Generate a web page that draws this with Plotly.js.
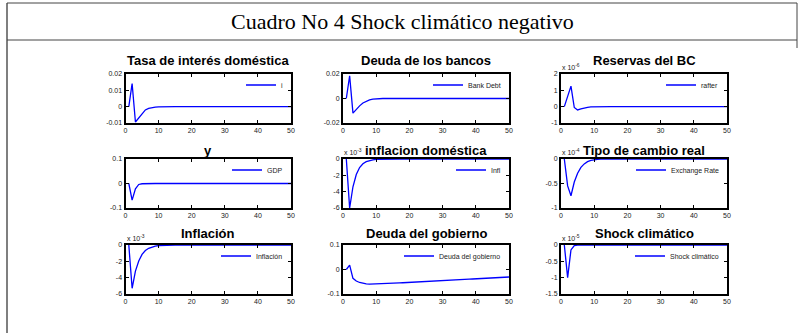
<!DOCTYPE html>
<html>
<head>
<meta charset="utf-8">
<script src="https://cdn.plot.ly/plotly-3.0.1.min.js"></script>
<style>
html,body{margin:0;padding:0;background:#fff;}
#chart{width:804px;height:333px;}
</style>
</head>
<body>
<div id="chart"></div>
<script>
// ---------------- DATA ----------------
var periods = [1,2,3,4,5,6,7,8,9,10,11,12,13,14,15,16,17,18,19,20,21,22,23,24,25,
               26,27,28,29,30,31,32,33,34,35,36,37,38,39,40,41,42,43,44,45,46,47,48,49,50];

var panelTitles = ["Tasa de interés doméstica", "Deuda de los bancos", "Reservas del BC",
                   "y", "inflacion doméstica", "Tipo de cambio real",
                   "Inflación", "Deuda del gobierno", "Shock climático"];
var legendNames = ["i", "Bank Debt", "rafter", "GDP", "Infl", "Exchange Rate",
                   "Inflación", "Deuda del gobierno", "Shock climático"];
var mainTitle = "Cuadro No 4 Shock climático negativo";
var xTicks = [0, 10, 20, 30, 40, 50];

var interes = [0, 0.0142, -0.0094, -0.0068, -0.0043, -0.0020, -0.0010, -0.0005, -0.0003, -0.0001,
  0,0,0,0,0,0,0,0,0,0, 0,0,0,0,0,0,0,0,0,0, 0,0,0,0,0,0,0,0,0,0, 0,0,0,0,0,0,0,0,0,0];
var bankDebt = [0, 0.0186, -0.0119, -0.0088, -0.0060, -0.0037, -0.0021, -0.0011, -0.0005, -0.0002,
  -0.0001,0,0,0,0,0,0,0,0,0, 0,0,0,0,0,0,0,0,0,0, 0,0,0,0,0,0,0,0,0,0, 0,0,0,0,0,0,0,0,0,0];
var rafter = [0, 0.63e-6, 1.26e-6, -0.05e-6, -0.20e-6, -0.14e-6, -0.08e-6, -0.04e-6, -0.015e-6, -0.005e-6,
  0,0,0,0,0,0,0,0,0,0, 0,0,0,0,0,0,0,0,0,0, 0,0,0,0,0,0,0,0,0,0, 0,0,0,0,0,0,0,0,0,0];
var gdp = [0, -0.068, -0.022, -0.004, -0.001, 0,0,0,0,0,
  0,0,0,0,0,0,0,0,0,0, 0,0,0,0,0,0,0,0,0,0, 0,0,0,0,0,0,0,0,0,0, 0,0,0,0,0,0,0,0,0,0];
var inflDom = [0, -6.0e-3, -3.4e-3, -1.9e-3, -1.05e-3, -0.58e-3, -0.32e-3, -0.18e-3, -0.10e-3, -0.05e-3,
  -0.03e-3, -0.015e-3, -0.008e-3, 0,0,0,0,0,0,0, 0,0,0,0,0,0,0,0,0,0, 0,0,0,0,0,0,0,0,0,0, 0,0,0,0,0,0,0,0,0,0];
var exchRate = [0, -0.55e-4, -0.75e-4, -0.47e-4, -0.29e-4, -0.17e-4, -0.10e-4, -0.055e-4, -0.03e-4, -0.015e-4,
  -0.008e-4, -0.004e-4, 0,0,0,0,0,0,0,0, 0,0,0,0,0,0,0,0,0,0, 0,0,0,0,0,0,0,0,0,0, 0,0,0,0,0,0,0,0,0,0];
var inflacion = [0, -5.3e-3, -3.2e-3, -1.95e-3, -1.15e-3, -0.68e-3, -0.40e-3, -0.23e-3, -0.13e-3, -0.07e-3,
  -0.04e-3, -0.02e-3, -0.01e-3, 0,0,0,0,0,0,0, 0,0,0,0,0,0,0,0,0,0, 0,0,0,0,0,0,0,0,0,0, 0,0,0,0,0,0,0,0,0,0];
var deudaGob = [0, 0.018, -0.036, -0.047, -0.053, -0.057, -0.0588, -0.0594, -0.0592, -0.0588,
  -0.0583, -0.0577, -0.0571, -0.0565, -0.0559, -0.0553, -0.0547, -0.0541, -0.0535, -0.0528,
  -0.0521, -0.0514, -0.0507, -0.0500, -0.0493, -0.0486, -0.0478, -0.0471, -0.0463, -0.0456,
  -0.0448, -0.0441, -0.0433, -0.0426, -0.0418, -0.0411, -0.0403, -0.0396, -0.0388, -0.0381,
  -0.0373, -0.0366, -0.0358, -0.0351, -0.0343, -0.0336, -0.0328, -0.0321, -0.0313, -0.0306];
var shock = [0, -1.0e-5, -0.15e-5, -0.02e-5, 0,0,0,0,0,0,
  0,0,0,0,0,0,0,0,0,0, 0,0,0,0,0,0,0,0,0,0, 0,0,0,0,0,0,0,0,0,0, 0,0,0,0,0,0,0,0,0,0];

var series = [interes, bankDebt, rafter, gdp, inflDom, exchRate, inflacion, deudaGob, shock];

// y axis ranges and tick labels
var yRanges = [[-0.01, 0.02], [-0.02, 0.02], [-1e-6, 2e-6],
               [-0.1, 0.1], [-6e-3, 0], [-1e-4, 0],
               [-6e-3, 0], [-0.1, 0.1], [-1.5e-5, 0]];
var yTickVals = [[-0.01, 0, 0.01, 0.02], [-0.02, 0, 0.02], [-1e-6, 0, 1e-6, 2e-6],
                 [-0.1, 0, 0.1], [-6e-3, -4e-3, -2e-3, 0], [-1e-4, -0.5e-4, 0],
                 [-6e-3, -4e-3, -2e-3, 0], [-0.1, 0, 0.1], [-1.5e-5, -1e-5, -0.5e-5, 0]];
var yTickText = [["-0.01", "0", "0.01", "0.02"], ["-0.02", "0", "0.02"], ["-1", "0", "1", "2"],
                 ["-0.1", "0", "0.1"], ["-6", "-4", "-2", "0"], ["-1", "-0.5", "0"],
                 ["-6", "-4", "-2", "0"], ["-0.1", "0", "0.1"], ["-1.5", "-1", "-0.5", "0"]];
var exponents = [null, null, "-6", null, "-3", "-4", "-3", null, "-5"];

// ---------------- LAYOUT ----------------
var W = 804, H = 333;
var colPx = [[125.5, 291], [343, 509], [561, 727]];
var rowPx = [[74, 123], [159, 208], [245, 294]];
var titleYPx = [61, 150, 233];

function px2x(p) { return p / W; }
function px2y(p) { return 1 - p / H; }

var tickFont = {family: "Liberation Sans, Arial, sans-serif", size: 7, color: "#222"};
var data = [];
var layout = {
  width: W, height: H,
  margin: {l: 0, r: 0, t: 0, b: 0},
  paper_bgcolor: "#fff", plot_bgcolor: "#fff",
  showlegend: true,
  annotations: [],
  shapes: []
};

for (var k = 0; k < 9; k++) {
  var r = Math.floor(k / 3), c = k % 3;
  var n = k + 1;
  var xa = "xaxis" + (n === 1 ? "" : n), ya = "yaxis" + (n === 1 ? "" : n);
  var xr = "x" + (n === 1 ? "" : n), yr = "y" + (n === 1 ? "" : n);
  var lg = "legend" + (n === 1 ? "" : n);
  var common = {
    showline: true, linecolor: "#000", linewidth: 2, mirror: "ticks",
    ticks: "inside", ticklen: 3, tickwidth: 1, tickcolor: "#000",
    showgrid: false, zeroline: false, fixedrange: true, tickfont: tickFont
  };
  layout[xa] = Object.assign({}, common, {
    domain: [px2x(colPx[c][0]), px2x(colPx[c][1])],
    range: [0, 50], tickvals: xTicks, ticktext: xTicks.map(String), anchor: yr
  });
  layout[ya] = Object.assign({}, common, {
    domain: [px2y(rowPx[r][1]), px2y(rowPx[r][0])],
    range: yRanges[k], tickvals: yTickVals[k], ticktext: yTickText[k], anchor: xr
  });
  data.push({
    x: periods, y: series[k], type: "scatter", mode: "lines",
    line: {color: "#0000ff", width: 1.3},
    name: legendNames[k], xaxis: xr, yaxis: yr, legend: lg, cliponaxis: true
  });
  layout[lg] = {
    x: px2x(colPx[c][1] - 3), xanchor: "right",
    y: px2y(rowPx[r][0] + 11), yanchor: "middle",
    bgcolor: "rgba(0,0,0,0)", borderwidth: 0,
    font: {family: "Liberation Sans, Arial, sans-serif", size: 7, color: "#222"},
    itemwidth: 30, tracegroupgap: 0
  };
  layout.annotations.push({
    text: panelTitles[k], xref: "paper", yref: "paper",
    x: px2x((colPx[c][0] + colPx[c][1]) / 2), y: px2y(titleYPx[r]),
    xanchor: "center", yanchor: "middle", showarrow: false,
    font: {family: "Liberation Sans, Arial, sans-serif", size: 13, color: "#000", weight: "bold"}
  });
  if (exponents[k]) {
    layout.annotations.push({
      text: "x 10<sup>" + exponents[k] + "</sup>", xref: "paper", yref: "paper",
      x: px2x(colPx[c][0] - 1), y: px2y(rowPx[r][0] - 1),
      xanchor: "left", yanchor: "bottom", showarrow: false,
      font: {family: "Liberation Sans, Arial, sans-serif", size: 7, color: "#222"}
    });
  }
}

// main title
layout.annotations.push({
  text: mainTitle, xref: "paper", yref: "paper",
  x: 0.5, y: px2y(21), xanchor: "center", yanchor: "middle", showarrow: false,
  font: {family: "Liberation Serif, DejaVu Serif, serif", size: 22, color: "#000"}
});

// table frame
var frame = {type: "line", xref: "paper", yref: "paper", line: {color: "#444", width: 1}};
layout.shapes.push(Object.assign({}, frame, {x0: px2x(7), x1: px2x(7), y0: px2y(3), y1: 0, line: {color: "#555", width: 1.5}}));
layout.shapes.push(Object.assign({}, frame, {x0: px2x(7), x1: px2x(797), y0: px2y(3), y1: px2y(3)}));
layout.shapes.push(Object.assign({}, frame, {x0: px2x(7), x1: px2x(797), y0: px2y(40), y1: px2y(40)}));
layout.shapes.push(Object.assign({}, frame, {x0: px2x(797), x1: px2x(797), y0: px2y(3), y1: px2y(48)}));

Plotly.newPlot("chart", data, layout, {staticPlot: true, displayModeBar: false});
</script>
</body>
</html>
